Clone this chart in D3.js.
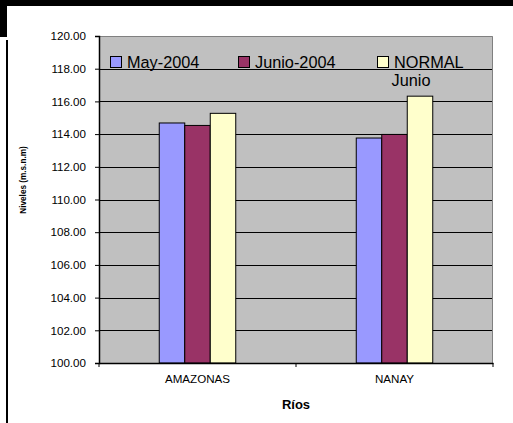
<!DOCTYPE html>
<html>
<head>
<meta charset="utf-8">
<script src="https://cdn.jsdelivr.net/npm/d3@7"></script>
<style>
  html, body { margin: 0; padding: 0; background: #fff; }
  svg { display: block; font-family: "Liberation Sans", Arial, sans-serif; }
</style>
</head>
<body>
<svg id="chart" width="513" height="423"></svg>
<script>
const categories = ["AMAZONAS", "NANAY"];
const seriesNames = ["May-2004", "Junio-2004", "NORMAL"];
const mayValues = [114.68, 113.76];
const junioValues = [114.53, 113.98];
const normalValues = [115.27, 116.32];
const yTicks = [100, 102, 104, 106, 108, 110, 112, 114, 116, 118, 120];
const seriesColors = ["#9999FF", "#993366", "#FFFFCC"];

const seriesValues = [mayValues, junioValues, normalValues];

const svg = d3.select("#chart");
const W = 513, H = 423;
const plot = { left: 99, right: 493, top: 36, bottom: 363 };

// frame
svg.append("rect").attr("x", 0).attr("y", 0).attr("width", W).attr("height", 6).attr("fill", "#000");
svg.append("rect").attr("x", 0).attr("y", 0).attr("width", 7).attr("height", 37).attr("fill", "#000");
svg.append("rect").attr("x", 6).attr("y", 40).attr("width", 2).attr("height", H - 40).attr("fill", "#000");

const y = d3.scaleLinear().domain([100, 120]).range([plot.bottom, plot.top]);
const x = d3.scaleBand().domain(categories).range([plot.left, plot.right]).padding(0);
const groupW = 76.5;
const xs = d3.scaleBand().domain(seriesNames).range([-groupW / 2, groupW / 2]).padding(0);

// plot background
svg.append("rect")
  .attr("x", plot.left).attr("y", plot.top)
  .attr("width", plot.right - plot.left).attr("height", plot.bottom - plot.top)
  .attr("fill", "#C0C0C0");

// gridlines
svg.append("g").selectAll("line")
  .data(yTicks.filter(t => t > 100 && t < 120))
  .join("line")
  .attr("x1", plot.left).attr("x2", plot.right)
  .attr("y1", d => Math.round(y(d)) + 0.5).attr("y2", d => Math.round(y(d)) + 0.5)
  .attr("stroke", "#000").attr("stroke-width", 1);

// plot border top/right
svg.append("path")
  .attr("d", `M${plot.left},${plot.top + 0.5}H${plot.right - 0.5}V${plot.bottom}`)
  .attr("fill", "none").attr("stroke", "#808080").attr("stroke-width", 1);

// bars
const barData = [];
categories.forEach((c, i) => {
  seriesNames.forEach((s, j) => {
    barData.push({ cat: c, series: s, value: seriesValues[j][i], color: seriesColors[j] });
  });
});
svg.append("g").selectAll("rect")
  .data(barData)
  .join("rect")
  .attr("x", d => x(d.cat) + x.bandwidth() / 2 + xs(d.series))
  .attr("y", d => y(d.value))
  .attr("width", xs.bandwidth())
  .attr("height", d => y(100) - y(d.value))
  .attr("fill", d => d.color)
  .attr("stroke", "#000").attr("stroke-width", 1);

// y axis
const yAxis = d3.axisLeft(y).tickValues(yTicks).tickFormat(d3.format(".2f")).tickSize(4).tickPadding(9);
const gy = svg.append("g").attr("transform", `translate(${plot.left},0)`).call(yAxis);
gy.select(".domain").attr("stroke", "#000").attr("stroke-width", 1.5);
gy.selectAll(".tick line").attr("stroke", "#000");
gy.selectAll(".tick text").attr("font-size", "11.6px").attr("fill", "#000")
  .attr("font-family", "'Liberation Sans', Arial, sans-serif");

// x axis
const xAxis = d3.axisBottom(x).tickSize(0).tickPadding(12);
const gx = svg.append("g").attr("transform", `translate(0,${plot.bottom})`).call(xAxis);
gx.select(".domain").attr("stroke", "#000").attr("stroke-width", 1.5);
gx.selectAll(".tick text").attr("font-size", "11.6px").attr("fill", "#000")
  .attr("font-family", "'Liberation Sans', Arial, sans-serif");
// category boundary ticks
const bounds = [plot.left, x(categories[1]), plot.right];
gx.selectAll(".bnd").data(bounds).join("line").attr("class", "bnd")
  .attr("x1", d => d).attr("x2", d => d).attr("y1", 0).attr("y2", 4)
  .attr("stroke", "#000");

// axis titles
svg.append("text")
  .attr("transform", `translate(26,180) rotate(-90)`)
  .attr("text-anchor", "middle")
  .attr("font-size", "8.2px").attr("font-weight", "bold")
  .text("Niveles (m.s.n.m)");
svg.append("text")
  .attr("x", (plot.left + plot.right) / 2).attr("y", 409)
  .attr("text-anchor", "middle")
  .attr("font-size", "13px").attr("font-weight", "bold")
  .text("Ríos");

// legend
const legendX = [110, 238, 377];
const lg = svg.append("g").attr("font-size", "16.3px");
seriesNames.forEach((s, j) => {
  lg.append("rect").attr("x", legendX[j] + 0.5).attr("y", 56.5).attr("width", 11).attr("height", 11)
    .attr("fill", seriesColors[j]).attr("stroke", "#000").attr("stroke-width", 1);
  lg.append("text").attr("x", legendX[j] + 17).attr("y", 67.5).text(s);
});
lg.append("text").attr("x", 411).attr("y", 85.5).attr("text-anchor", "middle").text("Junio");
</script>
</body>
</html>
